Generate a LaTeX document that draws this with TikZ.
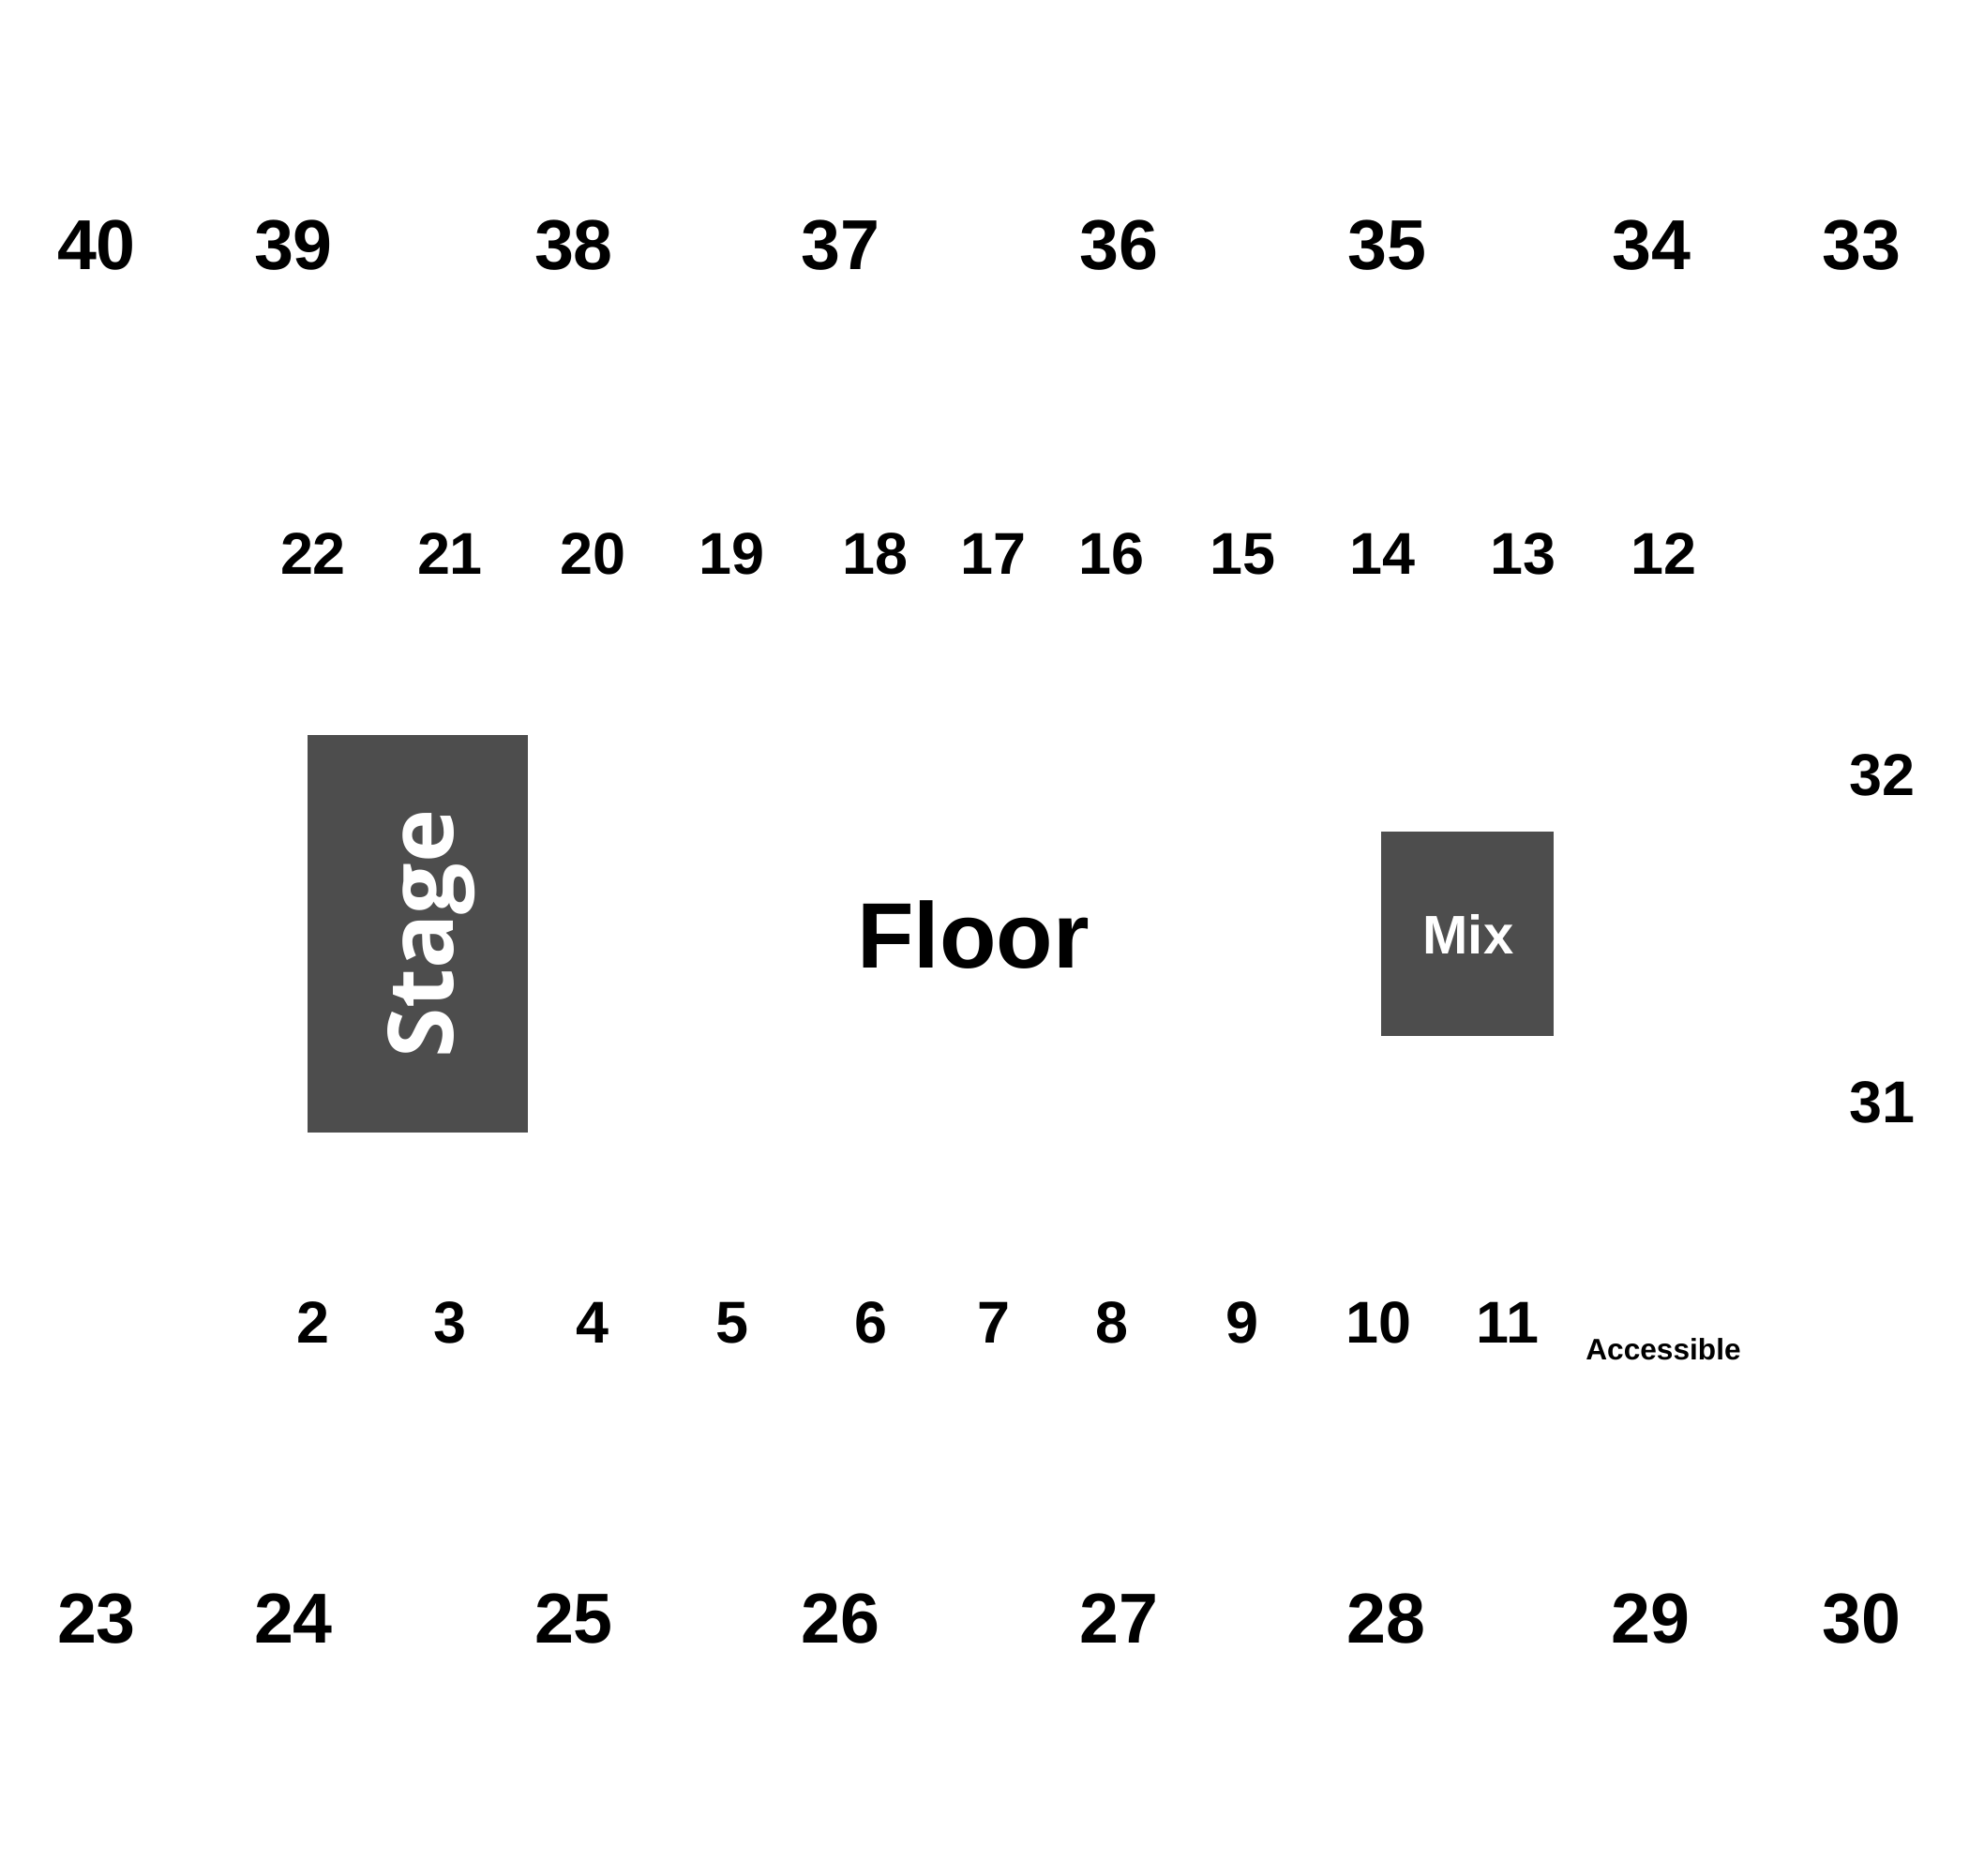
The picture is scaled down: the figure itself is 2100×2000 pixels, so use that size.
\documentclass[tikz,border=0pt]{standalone}
\usepackage{fontspec}
\setmainfont{Liberation Sans}
\newfontfamily\stagefont{Open Sans}
\definecolor{boxgray}{RGB}{77,77,77}
\begin{document}
\begin{tikzpicture}[x=0.1mm,y=-0.1mm,
  lbl/.style={anchor=base,inner sep=0pt,text=black},
  bignum/.style={lbl,font=\fontsize{21.45pt}{21.45pt}\selectfont\bfseries},
  midnum/.style={lbl,font=\fontsize{17.9pt}{17.9pt}\selectfont\bfseries},
  smalltxt/.style={lbl,font=\fontsize{9pt}{9pt}\selectfont\bfseries},
  floortxt/.style={lbl,font=\fontsize{28.2pt}{28.2pt}\selectfont\bfseries},
  mixtxt/.style={lbl,text=white,font=\fontsize{16.5pt}{16.5pt}\selectfont\bfseries},
  stagetxt/.style={lbl,text=white,rotate=90,font=\stagefont\fontsize{27.5pt}{27.5pt}\selectfont\bfseries}]
\useasboundingbox[fill=white] (0,0) rectangle (2100,2000);
% blocks
\fill[boxgray] (328,784) rectangle (563,1208);
\fill[boxgray] (1473,887) rectangle (1657,1105);
\node[stagetxt] (stage) at (483,996) {Stage};
\node[mixtxt] (mix) at (1566,1017) {Mix};
\node[floortxt] (floor) at (1038,1032) {Floor};
% top row
\foreach \n/\x in {40/103,39/313,38/612,37/896,36/1193,35/1479,34/1761,33/1985}
  \node[bignum] (s\n) at (\x,287) {\n};
% second row
\foreach \n/\x in {22/334,21/480,20/632,19/780,18/933,17/1059,16/1185,15/1325,14/1474,13/1624,12/1774}
  \node[midnum] (s\n) at (\x,612) {\n};
% right side
\node[midnum] (s32) at (2007,848) {32};
\node[midnum] (s31) at (2007,1197) {31};
% bottom inner row
\foreach \n/\x in {2/334,3/480,4/632,5/781,6/929,7/1060,8/1186,9/1325,10/1470,11/1608}
  \node[midnum] (s\n) at (\x,1432) {\n};
\node[smalltxt] (acc) at (1774,1450) {Accessible};
% bottom row
\foreach \n/\x in {23/103,24/313,25/612,26/896,27/1193,28/1478,29/1760,30/1985}
  \node[bignum] (s\n) at (\x,1752) {\n};
\end{tikzpicture}
\end{document}
